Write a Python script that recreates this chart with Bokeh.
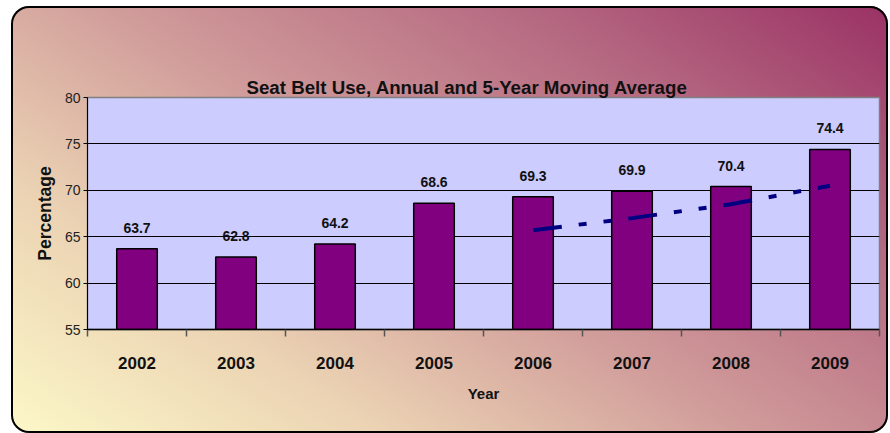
from bokeh.plotting import figure
from bokeh.models import ColumnDataSource, LabelSet, LinearAxis, Range1d, FixedTicker, Title
from bokeh.embed import file_html
from bokeh.resources import INLINE
from bokeh.core.properties import value

# ---- data ----
years = ["2002", "2003", "2004", "2005", "2006", "2007", "2008", "2009"]
seat_belt_use = [63.7, 62.8, 64.2, 68.6, 69.3, 69.9, 70.4, 74.4]
ma_years = ["2006", "2007", "2008", "2009"]
moving_avg = [65.7, 67.0, 68.5, 70.5]
y_ticks = [55, 60, 65, 70, 75, 80]

FONT = "Liberation Sans"

# category slot centers on a linear scale (slot i spans [i, i+1])
centers = [i + 0.5 for i in range(len(years))]
boundaries = list(range(len(years) + 1))
center_of = dict(zip(years, centers))

src = ColumnDataSource(dict(x=centers, value=seat_belt_use,
                            label=[f"{v:.1f}" for v in seat_belt_use]))
ma_src = ColumnDataSource(dict(x=[center_of[y] for y in ma_years], value=moving_avg))

p = figure(width=877, height=427,
           x_range=Range1d(0, len(years)), y_range=Range1d(y_ticks[0], y_ticks[-1]),
           output_backend="svg", toolbar_location=None,
           x_axis_location=None, y_axis_location="left",
           min_border_left=76, min_border_right=9,
           min_border_top=91, min_border_bottom=104)
p.title = None

p.styles = {
    "margin-left": "11px",
    "margin-top": "6px",
    "background": "linear-gradient(34deg, #fcf8c8 0%, #ebd2b3 25%, #cf9999 50%, #b66a82 75%, #9a3265 100%)",
    "border-radius": "18px",
    "box-shadow": "inset 0 0 0 2px #000",
}
p.border_fill_color = None
p.background_fill_color = "#ccccff"
p.outline_line_color = "#808080"
p.outline_line_width = 1.5

# invisible spacer between the title and the plot area (its only tick lies outside the range)
spacer = LinearAxis(ticker=FixedTicker(ticks=[-1]), major_tick_out=58, major_tick_in=0,
                    major_tick_line_color="black", minor_tick_line_color=None,
                    axis_line_color=None, major_label_standoff=0)
p.add_layout(spacer, "above")

# title (added after the spacer so it sits above it)
title = Title(text="Seat Belt Use, Annual and 5-Year Moving Average",
              text_font=FONT, text_font_size="18.7px", text_font_style="bold",
              text_color="#111111", align="left", offset=159, standoff=0)
p.add_layout(title, "above")

# y axis
yax = p.yaxis[0]
yax.ticker = FixedTicker(ticks=y_ticks)
yax.major_tick_out = 4
yax.major_tick_in = 0
yax.minor_tick_line_color = None
yax.axis_line_color = "black"
yax.major_tick_line_color = "black"
yax.major_label_text_font = FONT
yax.major_label_text_font_size = "14px"
yax.major_label_text_color = "#222222"
yax.major_label_standoff = 3
yax.axis_label = "Percentage"
yax.axis_label_text_font = FONT
yax.axis_label_text_font_size = "17.5px"
yax.axis_label_text_font_style = "bold"
yax.axis_label_text_color = "#111111"
yax.axis_label_standoff = 7

p.ygrid.grid_line_color = "black"
p.ygrid.grid_line_width = 1
p.xgrid.grid_line_color = None

# x axis: labels at slot centers, tick marks (minor) at slot boundaries
xax = LinearAxis(ticker=FixedTicker(ticks=centers, minor_ticks=boundaries),
                 major_label_overrides={c: y for c, y in zip(centers, years)},
                 major_tick_line_color=None, major_tick_out=0, major_tick_in=0,
                 minor_tick_line_color="#555555", minor_tick_out=7, minor_tick_in=0,
                 minor_tick_line_width=1.5,
                 axis_line_color="black", axis_line_width=1.5,
                 major_label_text_font=FONT,
                 major_label_text_font_size="17px",
                 major_label_text_font_style="bold",
                 major_label_text_color="#111111",
                 major_label_standoff=20,
                 axis_label="Year",
                 axis_label_text_font=FONT,
                 axis_label_text_font_size="15px",
                 axis_label_text_font_style="bold",
                 axis_label_text_color="#111111",
                 axis_label_standoff=13)
p.add_layout(xax, "below")

# bars
p.vbar(x="x", top="value", bottom=0, width=0.41, source=src,
       fill_color="#800080", line_color="black", line_width=1.5)

# value labels
labels = LabelSet(x="x", y="value", text="label", source=src,
                  y_offset=21, text_align="center", text_baseline="middle",
                  text_font=value(FONT), text_font_size="14px",
                  text_font_style="bold", text_color="#111111")
p.add_layout(labels)

# moving average
p.line(x="x", y="value", source=ma_src, line_color="#000080", line_width=4,
       line_dash="29 17 8 17 8 17")

open("out.html", "w").write(file_html(p, INLINE))
